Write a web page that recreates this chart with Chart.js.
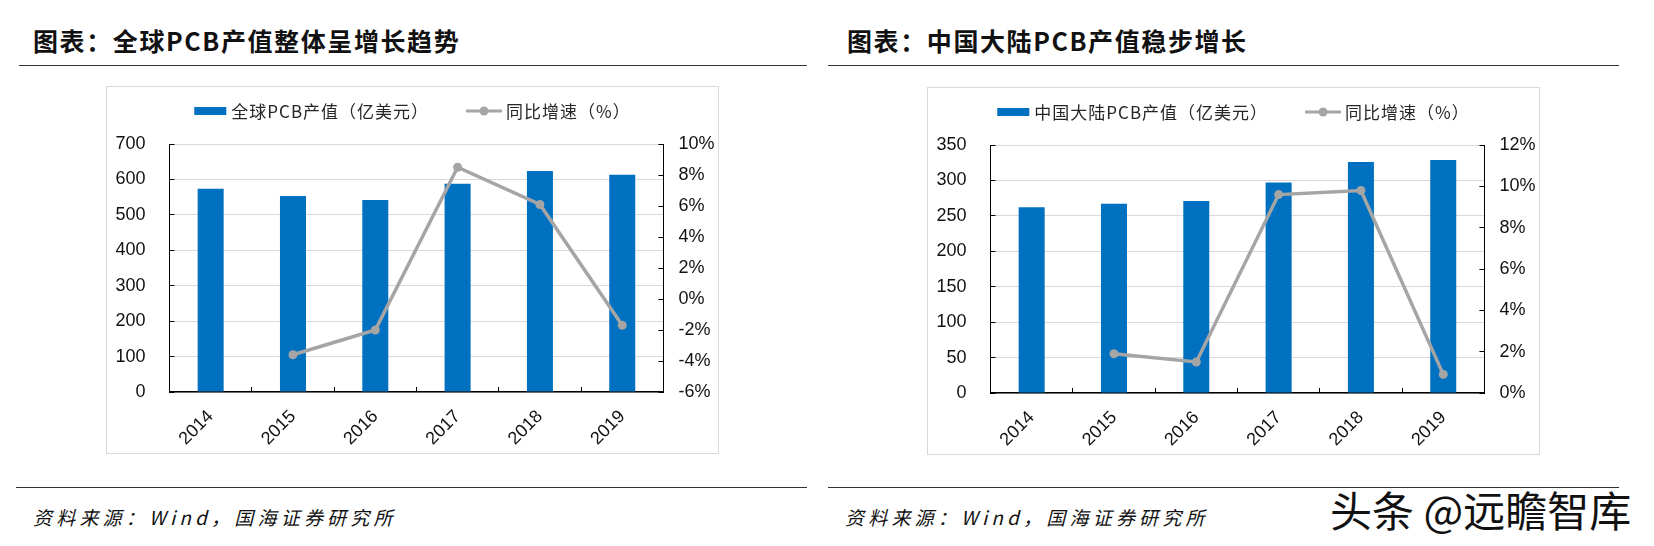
<!DOCTYPE html>
<html>
<head>
<meta charset="utf-8">
<script src="https://cdn.jsdelivr.net/npm/chart.js@4.4.0/dist/chart.umd.min.js"></script>
<style>
    body { margin: 0; width: 1654px; height: 546px; background: #fff; position: relative; overflow: hidden; font-family: "Noto Sans CJK SC", sans-serif; }
    .title { position: absolute; top: 24px; font-size: 25px; font-weight: 700; letter-spacing: 1.6px; color: #111; line-height: 32px; white-space: nowrap; }
    .rule { position: absolute; height: 0; border-top: 1.5px solid #333; }
    .box { position: absolute; width: 611px; height: 366px; border: 1px solid #d9d9d9; }
    .box canvas { display: block; }
    .src { position: absolute; top: 504px; font-size: 19px; line-height: 26px; font-style: italic; letter-spacing: 4.2px; color: #111; white-space: nowrap; }
    .wm { position: absolute; left: 1330px; top: 484px; font-size: 42px; line-height: 50px; color: #111; white-space: nowrap;
          text-shadow: 0 0 2px #fff, 0 0 2px #fff, 0 0 3px #fff; }
</style>
</head>
<body>
<div class="title" style="left:33px">图表：全球PCB产值整体呈增长趋势</div>
<div class="title" style="left:847px">图表：中国大陆PCB产值稳步增长</div>
<div class="rule" style="left:19px;width:788px;top:65px"></div>
<div class="rule" style="left:828px;width:791px;top:65px"></div>

<div class="box" style="left:106px;top:86px"><canvas id="globalChart" width="611" height="366"></canvas></div>
<div class="box" style="left:927px;top:87px"><canvas id="chinaChart" width="611" height="366"></canvas></div>

<div class="rule" style="left:16px;width:791px;top:487px"></div>
<div class="rule" style="left:828px;width:791px;top:487px"></div>
<div class="src" style="left:33px">资料来源：Wind，国海证券研究所</div>
<div class="src" style="left:845px">资料来源：Wind，国海证券研究所</div>
<div class="wm">头条 @远瞻智库</div>

<script>
// data
const years = ['2014', '2015', '2016', '2017', '2018', '2019'];
const globalValue = [574, 553, 542, 588, 624, 613];      // 亿美元
const globalGrowth = [null, -3.6, -2.0, 8.5, 6.1, -1.7];  // %
const chinaValue = [262, 267, 271, 297, 326, 329];
const chinaGrowth = [null, 1.9, 1.5, 9.6, 9.8, 0.9];

// axis ranges: [min, max, step]
const globalValueAxis = [0, 700, 100];
const globalRateAxis = [-6, 10, 2];
const chinaValueAxis = [0, 350, 50];
const chinaRateAxis = [0, 12, 2];

const BLUE = '#0070c0';
const GREY = '#a5a5a5';
const tickFont = { family: '"Liberation Sans", Arial, sans-serif', size: 18 };

// legend drawn in one row above the plot
const legendRow = {
    id: 'legendRow',
    afterDraw(chart) {
        const ctx = chart.ctx;
        const bar = chart.data.datasets[1];
        const line = chart.data.datasets[0];
        const y = 24;
        ctx.save();
        ctx.font = '17px "Noto Sans CJK SC"';
        ctx.letterSpacing = '1px';
        ctx.textBaseline = 'middle';
        const w1 = ctx.measureText(bar.label).width;
        const w2 = ctx.measureText(line.label).width;
        const total = 32 + 5 + w1 + 37 + 36 + 4 + w2;
        let x = (chart.width - total) / 2;
        ctx.fillStyle = bar.backgroundColor;
        ctx.fillRect(x, y - 4, 32, 8);
        x += 37;
        ctx.fillStyle = '#262626';
        ctx.fillText(bar.label, x, y + 1);
        x += w1 + 37;
        ctx.strokeStyle = line.borderColor;
        ctx.lineWidth = 3;
        ctx.beginPath();
        ctx.moveTo(x, y);
        ctx.lineTo(x + 36, y);
        ctx.stroke();
        ctx.beginPath();
        ctx.arc(x + 18, y, 4.5, 0, Math.PI * 2);
        ctx.fillStyle = line.backgroundColor;
        ctx.fill();
        x += 40;
        ctx.fillStyle = '#262626';
        ctx.fillText(line.label, x, y + 1);
        ctx.restore();
    }
};

function makeChart(id, barLabel, values, growth, valueAxis, rateAxis) {
    return new Chart(document.getElementById(id), {
        type: 'bar',
        data: {
            labels: years,
            datasets: [
                {
                    type: 'line',
                    label: '同比增速（%）',
                    data: growth,
                    yAxisID: 'y1',
                    borderColor: GREY,
                    backgroundColor: GREY,
                    borderWidth: 3.5,
                    pointRadius: 4.5,
                    pointBackgroundColor: GREY,
                    pointBorderWidth: 0,
                    tension: 0,
                    order: 0
                },
                {
                    type: 'bar',
                    label: barLabel,
                    data: values,
                    yAxisID: 'y',
                    backgroundColor: BLUE,
                    barPercentage: 0.316,
                    categoryPercentage: 1,
                    order: 1
                }
            ]
        },
        options: {
            responsive: false,
            animation: false,
            layout: { padding: { top: 57, left: 0, right: 0, bottom: 0 } },
            plugins: {
                legend: { display: false },
                tooltip: { enabled: false }
            },
            scales: {
                x: {
                    grid: { display: true, drawOnChartArea: false, offset: true, tickColor: '#000', tickLength: -5, tickWidth: 1 },
                    border: { color: '#000', width: 1.5 },
                    ticks: { font: tickFont, color: '#111', minRotation: 45, maxRotation: 45, padding: 19 },
                    afterFit: function(scale) { scale.height = 61; }
                },
                y: {
                    position: 'left',
                    min: valueAxis[0],
                    max: valueAxis[1],
                    ticks: { stepSize: valueAxis[2], font: tickFont, color: '#111', padding: 29 },
                    grid: { color: '#d9d9d9', tickColor: '#000', tickLength: -5 },
                    border: { color: '#000', width: 1 },
                    afterFit: function(scale) { scale.width = 62.5; }
                },
                y1: {
                    position: 'right',
                    min: rateAxis[0],
                    max: rateAxis[1],
                    ticks: {
                        stepSize: rateAxis[2],
                        font: tickFont,
                        color: '#111',
                        padding: 20,
                        callback: function(v) { return v + '%'; }
                    },
                    grid: { drawOnChartArea: false, tickColor: '#000', tickLength: -5 },
                    border: { color: '#000', width: 1 },
                    afterFit: function(scale) { scale.width = 54.6; }
                }
            }
        },
        plugins: [legendRow]
    });
}

makeChart('globalChart', '全球PCB产值（亿美元）', globalValue, globalGrowth, globalValueAxis, globalRateAxis);
makeChart('chinaChart', '中国大陆PCB产值（亿美元）', chinaValue, chinaGrowth, chinaValueAxis, chinaRateAxis);
</script>
</body>
</html>
